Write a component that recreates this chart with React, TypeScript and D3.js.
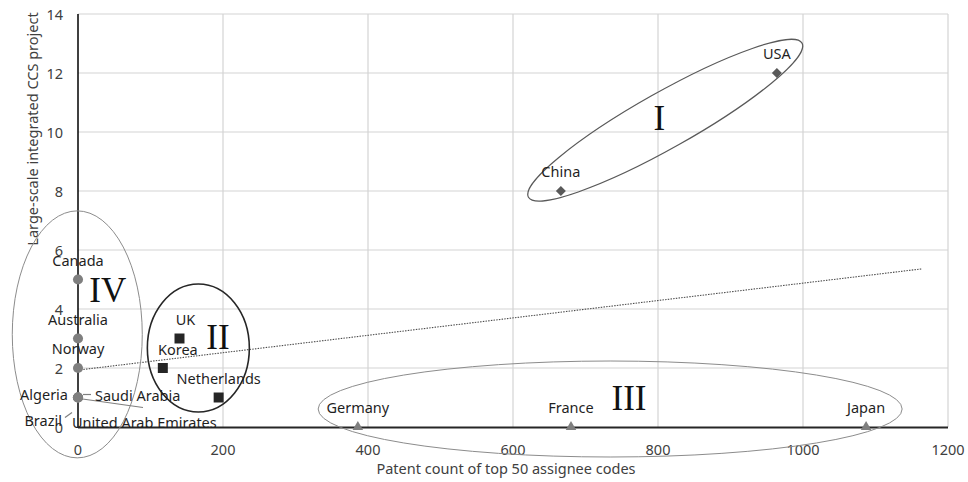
import * as d3 from 'd3';

// values
const groupINames = ['China', 'USA'];
const groupIPatents = [666, 964];
const groupIProjects = [8, 12];

const groupIINames = ['UK', 'Korea', 'Netherlands'];
const groupIIPatents = [140, 117, 194];
const groupIIProjects = [3, 2, 1];

const groupIIINames = ['Germany', 'France', 'Japan'];
const groupIIIPatents = [386, 680, 1087];
const groupIIIProjects = [0, 0, 0];

const groupIVNames = ['Canada', 'Australia', 'Norway', 'Algeria', 'Saudi Arabia', 'Brazil', 'United Arab Emirates'];
const groupIVPatents = [0, 0, 0, 0, 0, 0, 0];
const groupIVProjects = [5, 3, 2, 1, 1, 1, 1];

const xTicks = [0, 200, 400, 600, 800, 1000, 1200];
const yTicks = [0, 2, 4, 6, 8, 10, 12, 14];

const trendPatents = [0, 1164];
const trendProjects = [1.93, 5.36];

const xTitle = 'Patent count of top 50 assignee codes';
const yTitle = 'Large-scale integrated CCS project';

// layout
const W = 968;
const H = 482;
const FONT = '"Noto Sans", sans-serif';

// label placement (pixels, relative to the marker)
const labelPlace: Record<string, { dx: number; dy: number; anchor: string; leader?: [number, number, number, number] }> = {
  Algeria: { dx: -10, dy: -4, anchor: 'end' },
  'Saudi Arabia': { dx: 17, dy: -3, anchor: 'start', leader: [5, -3, 13, -3] },
  Brazil: { dx: -16, dy: 22, anchor: 'end', leader: [-13, 20, -6, 15] },
  'United Arab Emirates': { dx: -6, dy: 24, anchor: 'start', leader: [1, 1, 65, 10] },
  UK: { dx: 6, dy: -20, anchor: 'middle' },
  Korea: { dx: 15, dy: -19, anchor: 'middle' },
};

// group ellipses: centre in data units, radii in px
const groups = [
  { numeral: 'I', cx: 810, cy: 10.4, rx: 157, ry: 28, rot: -29.4, tx: 802, ty: 10.47, stroke: '#595959', sw: 1.2 },
  { numeral: 'II', cx: 166, cy: 2.68, rx: 51, ry: 64, rot: 0, tx: 193, ty: 3.05, stroke: '#262626', sw: 1.6 },
  { numeral: 'III', cx: 734, cy: 0.61, rx: 292, ry: 48, rot: 0, tx: 760, ty: 0.98, stroke: '#8c8c8c', sw: 1 },
  { numeral: 'IV', cx: -1, cy: 3.14, rx: 65, ry: 123.5, rot: 0, tx: 41, ty: 4.64, stroke: '#8c8c8c', sw: 1 },
];

const x = d3.scaleLinear([0, 1200], [78, 948]);
const y = d3.scaleLinear([0, 14], [427, 14]);

type Pt = { name: string; px: number; py: number };
const zip = (n: string[], a: number[], b: number[]): Pt[] => n.map((name, i) => ({ name, px: a[i], py: b[i] }));

const series = [
  { pts: zip(groupIVNames, groupIVPatents, groupIVProjects), shape: 'circle', fill: '#7f7f7f' },
  { pts: zip(groupIINames, groupIIPatents, groupIIProjects), shape: 'square', fill: '#262626' },
  { pts: zip(groupINames, groupIPatents, groupIProjects), shape: 'diamond', fill: '#595959' },
  { pts: zip(groupIIINames, groupIIIPatents, groupIIIProjects), shape: 'triangle', fill: '#7f7f7f' },
];

const symbolPath = (shape: string) => {
  if (shape === 'circle') return d3.symbol(d3.symbolCircle, 80)()!;
  if (shape === 'square') return d3.symbol(d3.symbolSquare, 100)()!;
  if (shape === 'diamond') return d3.symbol(d3.symbolSquare, 50)()!;
  return d3.symbol(d3.symbolTriangle, 48)()!;
};

const trendLine = d3
  .line<number>()
  .x((d) => x(d))
  .y((_, i) => y(trendProjects[i]));

export default function App() {
  return (
    <div style={{ position: 'absolute', left: 0, top: 0 }}>
      <svg width={W} height={H} viewBox={`0 0 ${W} ${H}`} style={{ display: 'block', background: '#fff' }}>
        {/* grid */}
        <g stroke="#d4d4d4" strokeWidth={1.2}>
          {xTicks.slice(1).map((t) => (
            <line key={'gx' + t} x1={x(t)} x2={x(t)} y1={y(14)} y2={y(0)} />
          ))}
          {yTicks.slice(1).map((t) => (
            <line key={'gy' + t} x1={x(0)} x2={x(1200)} y1={y(t)} y2={y(t)} />
          ))}
        </g>

        {/* axes */}
        <line x1={x(0)} x2={x(0)} y1={y(14)} y2={y(0)} stroke="#000" strokeWidth={1.5} />
        <line x1={x(0)} x2={x(1200)} y1={y(0) + 0.5} y2={y(0) + 0.5} stroke="#262626" strokeWidth={1.8} />

        <g fontFamily={FONT} fontSize={14.5} fill="#404040">
          {xTicks.map((t) => (
            <text key={'tx' + t} x={x(t)} y={y(0) + 22} textAnchor="middle" dominantBaseline="central">
              {t}
            </text>
          ))}
          {yTicks.map((t) => (
            <text key={'ty' + t} x={63} y={y(t)} textAnchor="end" dominantBaseline="central">
              {t}
            </text>
          ))}
          <text x={506} y={468} textAnchor="middle" dominantBaseline="central">
            {xTitle}
          </text>
          <text transform="translate(32,129) rotate(-90)" textAnchor="middle" dominantBaseline="central">
            {yTitle}
          </text>
        </g>

        {/* trend line */}
        <path
          d={trendLine(trendPatents)!}
          fill="none"
          stroke="#4d4d4d"
          strokeWidth={1.1}
          strokeDasharray="1.5 1.2"
        />

        {/* group ellipses */}
        {groups.map((g) => (
          <ellipse
            key={g.numeral}
            cx={0}
            cy={0}
            rx={g.rx}
            ry={g.ry}
            transform={`translate(${x(g.cx)},${y(g.cy)}) rotate(${g.rot})`}
            fill="none"
            stroke={g.stroke}
            strokeWidth={g.sw}
          />
        ))}

        {/* markers */}
        {series.map((s) =>
          s.pts.map((p) => (
            <path
              key={'m' + p.name}
              d={symbolPath(s.shape)}
              transform={`translate(${x(p.px)},${y(p.py)})${s.shape === 'diamond' ? ' rotate(45)' : ''}`}
              fill={s.fill}
            />
          ))
        )}

        {/* leader lines */}
        {series.map((s) =>
          s.pts
            .filter((p) => labelPlace[p.name]?.leader)
            .map((p) => {
              const [a, b, c, d] = labelPlace[p.name].leader!;
              return (
                <line
                  key={'l' + p.name}
                  x1={x(p.px) + a}
                  y1={y(p.py) + b}
                  x2={x(p.px) + c}
                  y2={y(p.py) + d}
                  stroke="#7f7f7f"
                  strokeWidth={1.2}
                />
              );
            })
        )}

        {/* point labels */}
        <g fontFamily={FONT} fontSize={14.5} fill="#1f1f1f">
          {series.map((s) =>
            s.pts.map((p) => {
              const lp = labelPlace[p.name] ?? { dx: 0, dy: -20, anchor: 'middle' };
              return (
                <text
                  key={'t' + p.name}
                  x={x(p.px) + lp.dx}
                  y={y(p.py) + lp.dy}
                  textAnchor={lp.anchor}
                  dominantBaseline="central"
                >
                  {p.name}
                </text>
              );
            })
          )}
        </g>

        {/* roman numerals */}
        <g fontFamily='"Liberation Serif", serif' fontSize={35} fill="#111">
          {groups.map((g) => (
            <text key={'n' + g.numeral} x={x(g.tx)} y={y(g.ty)} textAnchor="middle" dominantBaseline="central">
              {g.numeral}
            </text>
          ))}
        </g>
      </svg>
    </div>
  );
}
